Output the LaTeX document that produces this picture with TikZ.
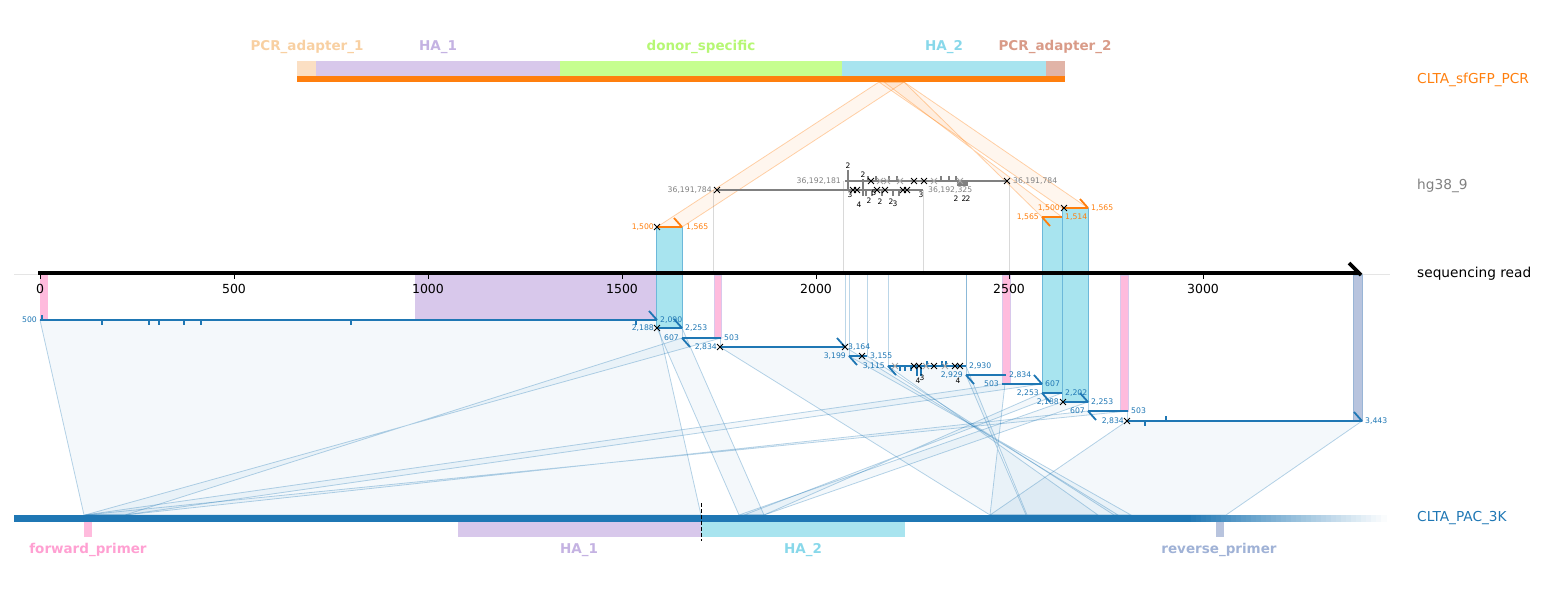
\documentclass[tikz,border=0pt]{standalone}
\usepackage{fontspec}
\setmainfont{DejaVu Sans}
\usetikzlibrary{shapes.misc}

\definecolor{tabblue}{HTML}{1F77B4}
\definecolor{taborange}{HTML}{FF7F0E}
\definecolor{hggrey}{HTML}{808080}
\definecolor{adaptA}{HTML}{FBDFC3}
\definecolor{adaptAtxt}{HTML}{F8D0A2}
\definecolor{haone}{HTML}{D8C8EB}
\definecolor{haonetxt}{HTML}{C4B2E2}
\definecolor{donor}{HTML}{C6FE8F}
\definecolor{donortxt}{HTML}{B6F774}
\definecolor{hatwo}{HTML}{A8E4EF}
\definecolor{hatwotxt}{HTML}{88D8EA}
\definecolor{hatwoedge}{HTML}{6CB8DA}
\definecolor{adaptB}{HTML}{E1B4A7}
\definecolor{adaptBtxt}{HTML}{D99B88}
\definecolor{fwdprimer}{HTML}{FFBBDD}
\definecolor{fwdprimertxt}{HTML}{FFA0D2}
\definecolor{revprimer}{HTML}{B8C4DE}
\definecolor{revprimertxt}{HTML}{A0B2D6}

\tikzset{
  trackname/.style={inner sep=0pt, anchor=west, font=\fontsize{13.7}{16}\selectfont},
  featname/.style={inner sep=0pt, font=\bfseries\fontsize{13.5}{16}\selectfont},
  ticklabel/.style={inner sep=0pt, font=\fontsize{12.5}{14}\selectfont},
  poslabel/.style={inner sep=0pt, font=\fontsize{7.7}{9}\selectfont},
  countlabel/.style={inner sep=0pt, font=\fontsize{7.5}{9}\selectfont},
  xmark/.style={cross out, draw=black, line width=0.9pt, minimum size=5pt, inner sep=0pt},
  greyxmark/.style={cross out, draw=hggrey!70, line width=0.9pt, minimum size=5pt, inner sep=0pt},
  pacband/.style={fill=tabblue, fill opacity=0.05, draw=tabblue, draw opacity=0.32, line width=0.8pt},
  pcrband/.style={fill=taborange, fill opacity=0.07, draw=taborange, draw opacity=0.35, line width=0.8pt},
  readguide/.style={draw=tabblue, draw opacity=0.3, line width=0.8pt},
  hgguide/.style={draw=hggrey, draw opacity=0.3, line width=0.8pt},
  alnline/.style={line width=1.8pt},
}

\begin{document}
\begin{tikzpicture}[x=1pt, y=-1pt]
  \useasboundingbox (0,0) rectangle (1543,598);

  \draw[black!10, line width=0.6pt] (14,274) -- (1390,274);

  % CLTA_sfGFP_PCR track
  \fill[adaptA] (297,61) rectangle (316,76);
  \fill[haone] (316,61) rectangle (560,76);
  \fill[donor] (560,61) rectangle (842,76);
  \fill[hatwo] (842,61) rectangle (1046,76);
  \fill[adaptB] (1046,61) rectangle (1065,76);
  \fill[taborange] (297,76) rectangle (1065,82);
  \node[featname, text=adaptAtxt] (adapterA) at (307,47) {PCR\_adapter\_1};
  \node[featname, text=haonetxt] (haoneTop) at (438,47) {HA\_1};
  \node[featname, text=donortxt] (donorTop) at (701,47) {donor\_specific};
  \node[featname, text=hatwotxt] (hatwoTop) at (944,47) {HA\_2};
  \node[featname, text=adaptBtxt] (adapterB) at (1055,47) {PCR\_adapter\_2};

  \coordinate (pcrA) at (879,82);
  \coordinate (pcrB) at (904,82);
  \coordinate (pcrC) at (884,82);
  \coordinate (pcrOneS) at (657,227);
  \coordinate (pcrOneE) at (682,227);
  \coordinate (pcrTwoS) at (1042,217);
  \coordinate (pcrTwoE) at (1062,217);
  \coordinate (pcrThreeS) at (1062,208);
  \coordinate (pcrThreeE) at (1088,208);
  \filldraw[pcrband] (pcrA) -- (pcrB) -- (pcrOneE) -- (pcrOneS) -- cycle;
  \filldraw[pcrband] (pcrB) -- (pcrC) -- (pcrTwoE) -- (pcrTwoS) -- cycle;
  \filldraw[pcrband] (pcrA) -- (pcrB) -- (pcrThreeE) -- (pcrThreeS) -- cycle;

  % alignments of CLTA_PAC_3K on the read
  \foreach \xa/\xb/\yy/\ba/\bb [count=\i] in {
      40/657/320/84/701, 657/682/328/739/764, 682/721/338/125/85,
      720/845/347/990/1118, 849/867/356/1131/1114, 888/966/366/1098/1027,
      966/1006/375/1026/990, 1002/1042/384/85/125, 1042/1062/393/764/744,
      1062/1088/402/739/764, 1088/1128/411/125/85, 1127/1362/421/990/1226} {
    \coordinate (aln\i s) at (\xa,\yy);
    \coordinate (aln\i e) at (\xb,\yy);
    \coordinate (pac\i s) at (\ba,515);
    \coordinate (pac\i e) at (\bb,515);
    \filldraw[pacband] (aln\i s) -- (aln\i e) -- (pac\i e) -- (pac\i s) -- cycle;
    \draw[readguide] (\xa,274) -- (aln\i s);
    \draw[readguide] (\xb,274) -- (aln\i e);
  }

  \draw[hgguide] (713,274) -- (713,190);
  \draw[hgguide] (843,274) -- (843,181);
  \draw[hgguide] (923,274) -- (923,190);
  \draw[hgguide] (1009,274) -- (1009,181);

  % features on the read
  \fill[haone] (415,275) rectangle (657,320);
  \filldraw[fill=hatwo, draw=hatwoedge, line width=0.9pt] (656,227) rectangle (682,328);
  \filldraw[fill=hatwo, draw=hatwoedge, line width=0.9pt] (1042,217) rectangle (1062,393);
  \filldraw[fill=hatwo, draw=hatwoedge, line width=0.9pt] (1062,208) rectangle (1088,402);
  \fill[fwdprimer] (40,275) rectangle (48,320);
  \filldraw[fill=fwdprimer, draw=haone, line width=0.8pt] (714,275) rectangle (721,338);
  \filldraw[fill=fwdprimer, draw=haone, line width=0.8pt] (1002,275) rectangle (1010,384);
  \filldraw[fill=fwdprimer, draw=haone, line width=0.8pt] (1120,275) rectangle (1128,411);
  \filldraw[fill=revprimer, draw=revprimer!80!tabblue, line width=0.8pt] (1353,275) rectangle (1362,421);

  % CLTA_PAC_3K track
  \fill[tabblue] (14,515) rectangle (1187,522);
  \foreach \k in {0,...,39}
    \fill[tabblue!\the\numexpr 100-\k*5/2\relax] (1186+\k*5,515) rectangle (1192+\k*5,522);
  \fill[fwdprimer] (84,522) rectangle (92,537);
  \fill[haone] (458,522) rectangle (701,537);
  \fill[hatwo] (701,522) rectangle (905,537);
  \fill[revprimer] (1216,522) rectangle (1224,537);
  \draw[black, line width=0.9pt, dash pattern=on 4pt off 2pt] (701,503) -- (701,541);
  \node[featname, text=fwdprimertxt] (fwdBottom) at (88,550) {forward\_primer};
  \node[featname, text=haonetxt] (haoneBottom) at (579,550) {HA\_1};
  \node[featname, text=hatwotxt] (hatwoBottom) at (803,550) {HA\_2};
  \node[featname, text=revprimertxt] (revBottom) at (1219,550) {reverse\_primer};

  % sequencing read axis
  \draw[line width=3.6pt] (38,273) -- (1358,273);
  \draw[line width=3.6pt] (1349,263) -- (1361,275);
  \foreach \pos/\xx in {0/40, 500/234, 1000/428, 1500/622, 2000/816, 2500/1009, 3000/1203} {
    \draw[line width=0.8pt] (\xx,275) -- (\xx,279);
    \node[ticklabel] (tick\pos) at (\xx,289) {\pos};
  }

  % alignment lines and labels
  \foreach \xa/\xb/\yy/\kx/\kd/\la/\lb [count=\i] in {
      40/657/320/657/-1/{500}/{2,090},
      657/682/328/682/-1/{2,188}/{2,253},
      682/721/338/682/1/{607}/{503},
      720/845/347/845/-1/{2,834}/{3,164},
      849/867/356/849/1/{3,199}/{3,155},
      888/966/366/888/1/{3,115}/{2,930},
      966/1006/375/966/1/{2,929}/{2,834},
      1002/1042/384/1042/-1/{503}/{607},
      1042/1062/393/1042/1/{2,253}/{2,202},
      1062/1088/402/1088/-1/{2,188}/{2,253},
      1088/1128/411/1088/1/{607}/{503},
      1127/1362/421/1362/-1/{2,834}/{3,443}} {
    \draw[alnline, tabblue] (\xa,\yy) -- (\xb,\yy);
    \draw[alnline, tabblue] (\kx,\yy) -- ++(8*\kd,9*\kd);
    \node[poslabel, text=tabblue, anchor=east] (left\i) at (\xa-3,\yy) {\la};
    \node[poslabel, text=tabblue, anchor=west] (right\i) at (\xb+3,\yy) {\lb};
  }
  \foreach \xx in {102, 149, 159, 184, 201, 351, 636}
    \draw[tabblue, line width=1.4pt] (\xx,320) -- (\xx,325);
  \draw[tabblue, line width=2.5pt] (42,315) -- (42,320);
  \draw[tabblue, line width=1.4pt] (1145,421) -- (1145,426);
  \draw[tabblue, line width=1.4pt] (1166,416) -- (1166,421);
  \foreach \xx in {900, 905, 911} \draw[tabblue, line width=1.4pt] (\xx,366) -- (\xx,371);
  \foreach \xx in {917, 921} \draw[tabblue, line width=1.6pt] (\xx,366) -- (\xx,376);
  \foreach \xx in {927, 942, 946} \draw[tabblue, line width=1.4pt] (\xx,361) -- (\xx,366);
  \foreach \xx in {895, 926, 945} \node[greyxmark] at (\xx,366) {};
  \foreach \xx in {914, 919, 934, 955, 960} \node[xmark] at (\xx,366) {};
  \node[countlabel] (cntA) at (918,381) {4};
  \node[countlabel] (cntB) at (922,378) {3};
  \node[countlabel] (cntC) at (958,381) {4};
  \node[xmark] (xa) at (657,328) {};
  \node[xmark] (xb) at (720,347) {};
  \node[xmark] (xc) at (845,347) {};
  \node[xmark] (xd) at (862,356) {};
  \node[xmark] (xe) at (1063,402) {};
  \node[xmark] (xf) at (1127,421) {};

  % alignments of CLTA_sfGFP_PCR on the read
  \draw[alnline, taborange] (pcrOneS) -- (pcrOneE);
  \draw[alnline, taborange] (pcrOneE) -- ++(-8,-9);
  \draw[alnline, taborange] (pcrTwoS) -- (pcrTwoE);
  \draw[alnline, taborange] (pcrTwoS) -- ++(8,9);
  \draw[alnline, taborange] (pcrThreeS) -- (pcrThreeE);
  \draw[alnline, taborange] (pcrThreeE) -- ++(-8,-9);
  \node[poslabel, text=taborange, anchor=east] (pcrOneL) at (654,227) {1,500};
  \node[poslabel, text=taborange, anchor=west] (pcrOneR) at (686,227) {1,565};
  \node[poslabel, text=taborange, anchor=east] (pcrTwoL) at (1039,217) {1,565};
  \node[poslabel, text=taborange, anchor=west] (pcrTwoR) at (1065,217) {1,514};
  \node[poslabel, text=taborange, anchor=east] (pcrThreeL) at (1060,208) {1,500};
  \node[poslabel, text=taborange, anchor=west] (pcrThreeR) at (1091,208) {1,565};
  \node[xmark] (pcrOneX) at (657,227) {};
  \node[xmark] (pcrThreeX) at (1064,208) {};

  % alignments of hg38_9 on the read
  \draw[alnline, hggrey] (717,190) -- (923,190);
  \draw[alnline, hggrey] (845,181) -- (1007,181);
  \node[poslabel, text=hggrey, anchor=east] (hgOneL) at (712,190) {36,191,784};
  \node[poslabel, text=hggrey, anchor=west] (hgOneR) at (928,190) {36,192,325};
  \node[poslabel, text=hggrey, anchor=east] (hgTwoL) at (841,181) {36,192,181};
  \node[poslabel, text=hggrey, anchor=west] (hgTwoR) at (1013,181) {36,191,784};
  \draw[hggrey, line width=2.5pt] (848,170) -- (848,190);
  \draw[hggrey, line width=2.5pt] (863,179) -- (863,196);
  \foreach \xx in {868, 876, 889, 897, 941, 949, 956}
    \draw[hggrey, line width=2pt] (\xx,176) -- (\xx,181);
  \foreach \xx in {866, 872, 882, 893, 899}
    \draw[hggrey, line width=2pt] (\xx,190) -- (\xx,196);
  \fill[hggrey] (957,181) rectangle (968,186);
  \foreach \xx in {880, 887, 900, 934, 960} \node[greyxmark] at (\xx,181) {};
  \foreach \xx in {717, 853, 857, 877, 885, 903, 907} \node[xmark] at (\xx,190) {};
  \foreach \xx in {871, 914, 924, 1007} \node[xmark] at (\xx,181) {};
  \foreach \xx/\yy/\cc [count=\i] in {848/166/2, 863/175/2, 850/195/3, 859/205/4, 869/201/2, 874/193/5,
      880/202/2, 891/202/2, 895/204/3, 921/195/3, 956/199/2, 964/199/2, 968/199/2}
    \node[countlabel] (cnt\i) at (\xx,\yy) {\cc};

  % track names
  \node[trackname, text=taborange] (pcrName) at (1417,80) {CLTA\_sfGFP\_PCR};
  \node[trackname, text=hggrey] (hgName) at (1417,186) {hg38\_9};
  \node[trackname, text=black] (readName) at (1417,274) {sequencing read};
  \node[trackname, text=tabblue] (pacName) at (1417,518) {CLTA\_PAC\_3K};
\end{tikzpicture}
\end{document}
